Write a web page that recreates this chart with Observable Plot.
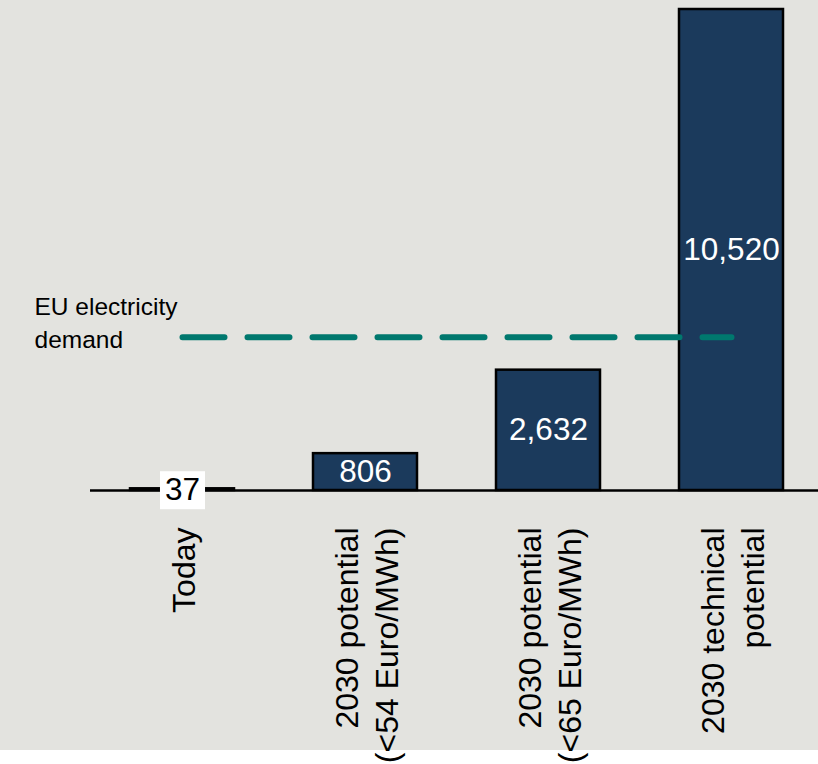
<!DOCTYPE html>
<html>
<head>
<meta charset="utf-8">
<script src="https://cdn.jsdelivr.net/npm/d3@7"></script>
<script src="https://cdn.jsdelivr.net/npm/@observablehq/plot@0.6"></script>
<style>
  html, body { margin: 0; background: #ffffff; }
  #chart { height: 764px; overflow: visible; }
  #chart svg { display: block; overflow: visible !important; }
</style>
</head>
<body>
<div id="chart"></div>
<script>
// ---- Data ----
const categories = [
  "Today",
  "2030 potential\n(<54 Euro/MWh)",
  "2030 potential\n(<65 Euro/MWh)",
  "2030 technical\npotential"
];
const values = [37, 806, 2632, 10520];
const demandValue = 3350;
const demandLabel = "EU electricity\ndemand";
const boxedCategories = ["Today"]; // value label shown on a white box

// ---- Build tables ----
const fmt = d3.format(",");
const data = categories.map((c, i) => ({category: c, value: values[i], label: fmt(values[i])}));
const demand = [
  {category: categories[0], v: demandValue},
  {category: categories[categories.length - 1], v: demandValue}
];
const demandText = [{label: demandLabel, v: demandValue}];

const FONT = "'Liberation Sans', Arial, Helvetica, sans-serif";

const chart = Plot.plot({
  width: 818,
  height: 750,
  marginTop: 9,
  marginBottom: 260,
  marginLeft: 90,
  marginRight: 0,
  style: {fontFamily: FONT, background: "#e3e3df", overflow: "visible", color: "#000"},
  x: {domain: categories, range: [89, 824], paddingInner: 0.433, paddingOuter: 0.2165, axis: null},
  y: {domain: [0, d3.max(values)], axis: null},
  marks: [
    Plot.barY(data, {x: "category", y: "value", fill: "#1b3a5c", stroke: "#000", strokeWidth: 2.5}),
    Plot.ruleY([0], {stroke: "#000", strokeWidth: 2.5}),
    Plot.lineY(demand, {x: "category", y: "v", stroke: "#00786e", strokeWidth: 6, strokeDasharray: "42,23"}),
    Plot.text(demandText, {
      frameAnchor: "left", y: "v", text: "label", dx: -56, dy: -16,
      textAnchor: "start", lineAnchor: "middle", lineHeight: 1.35, fontSize: 24.5, fill: "#000"
    }),
    Plot.text(data.filter(d => !boxedCategories.includes(d.category)), {
      x: "category", y: d => d.value / 2, text: "label", fontSize: 31.5, fill: "#fff"
    }),
    Plot.text(data.filter(d => boxedCategories.includes(d.category)), {
      x: "category", y: d => d.value / 2, text: "label", fontSize: 31.5, fill: "#000",
      ariaDescription: "boxed label"
    }),
    Plot.text(data, {
      x: "category", y: 0, dy: 37, text: "category", rotate: -90,
      textAnchor: "end", lineAnchor: "middle", lineHeight: 1.24, fontSize: 32, fill: "#000"
    })
  ]
});

document.getElementById("chart").append(chart);

// white boxes behind boxed value labels, sized from the rendered text
const svgns = "http://www.w3.org/2000/svg";
chart.querySelectorAll('g[aria-description="boxed label"] text').forEach(t => {
  const b = t.getBBox();
  const r = document.createElementNS(svgns, "rect");
  r.setAttribute("x", b.x - 5);
  r.setAttribute("y", b.y + 0.5);
  r.setAttribute("width", b.width + 10);
  r.setAttribute("height", b.height + 2);
  r.setAttribute("fill", "#fff");
  if (t.getAttribute("transform")) r.setAttribute("transform", t.getAttribute("transform"));
  t.parentNode.insertBefore(r, t);
});
</script>
</body>
</html>
